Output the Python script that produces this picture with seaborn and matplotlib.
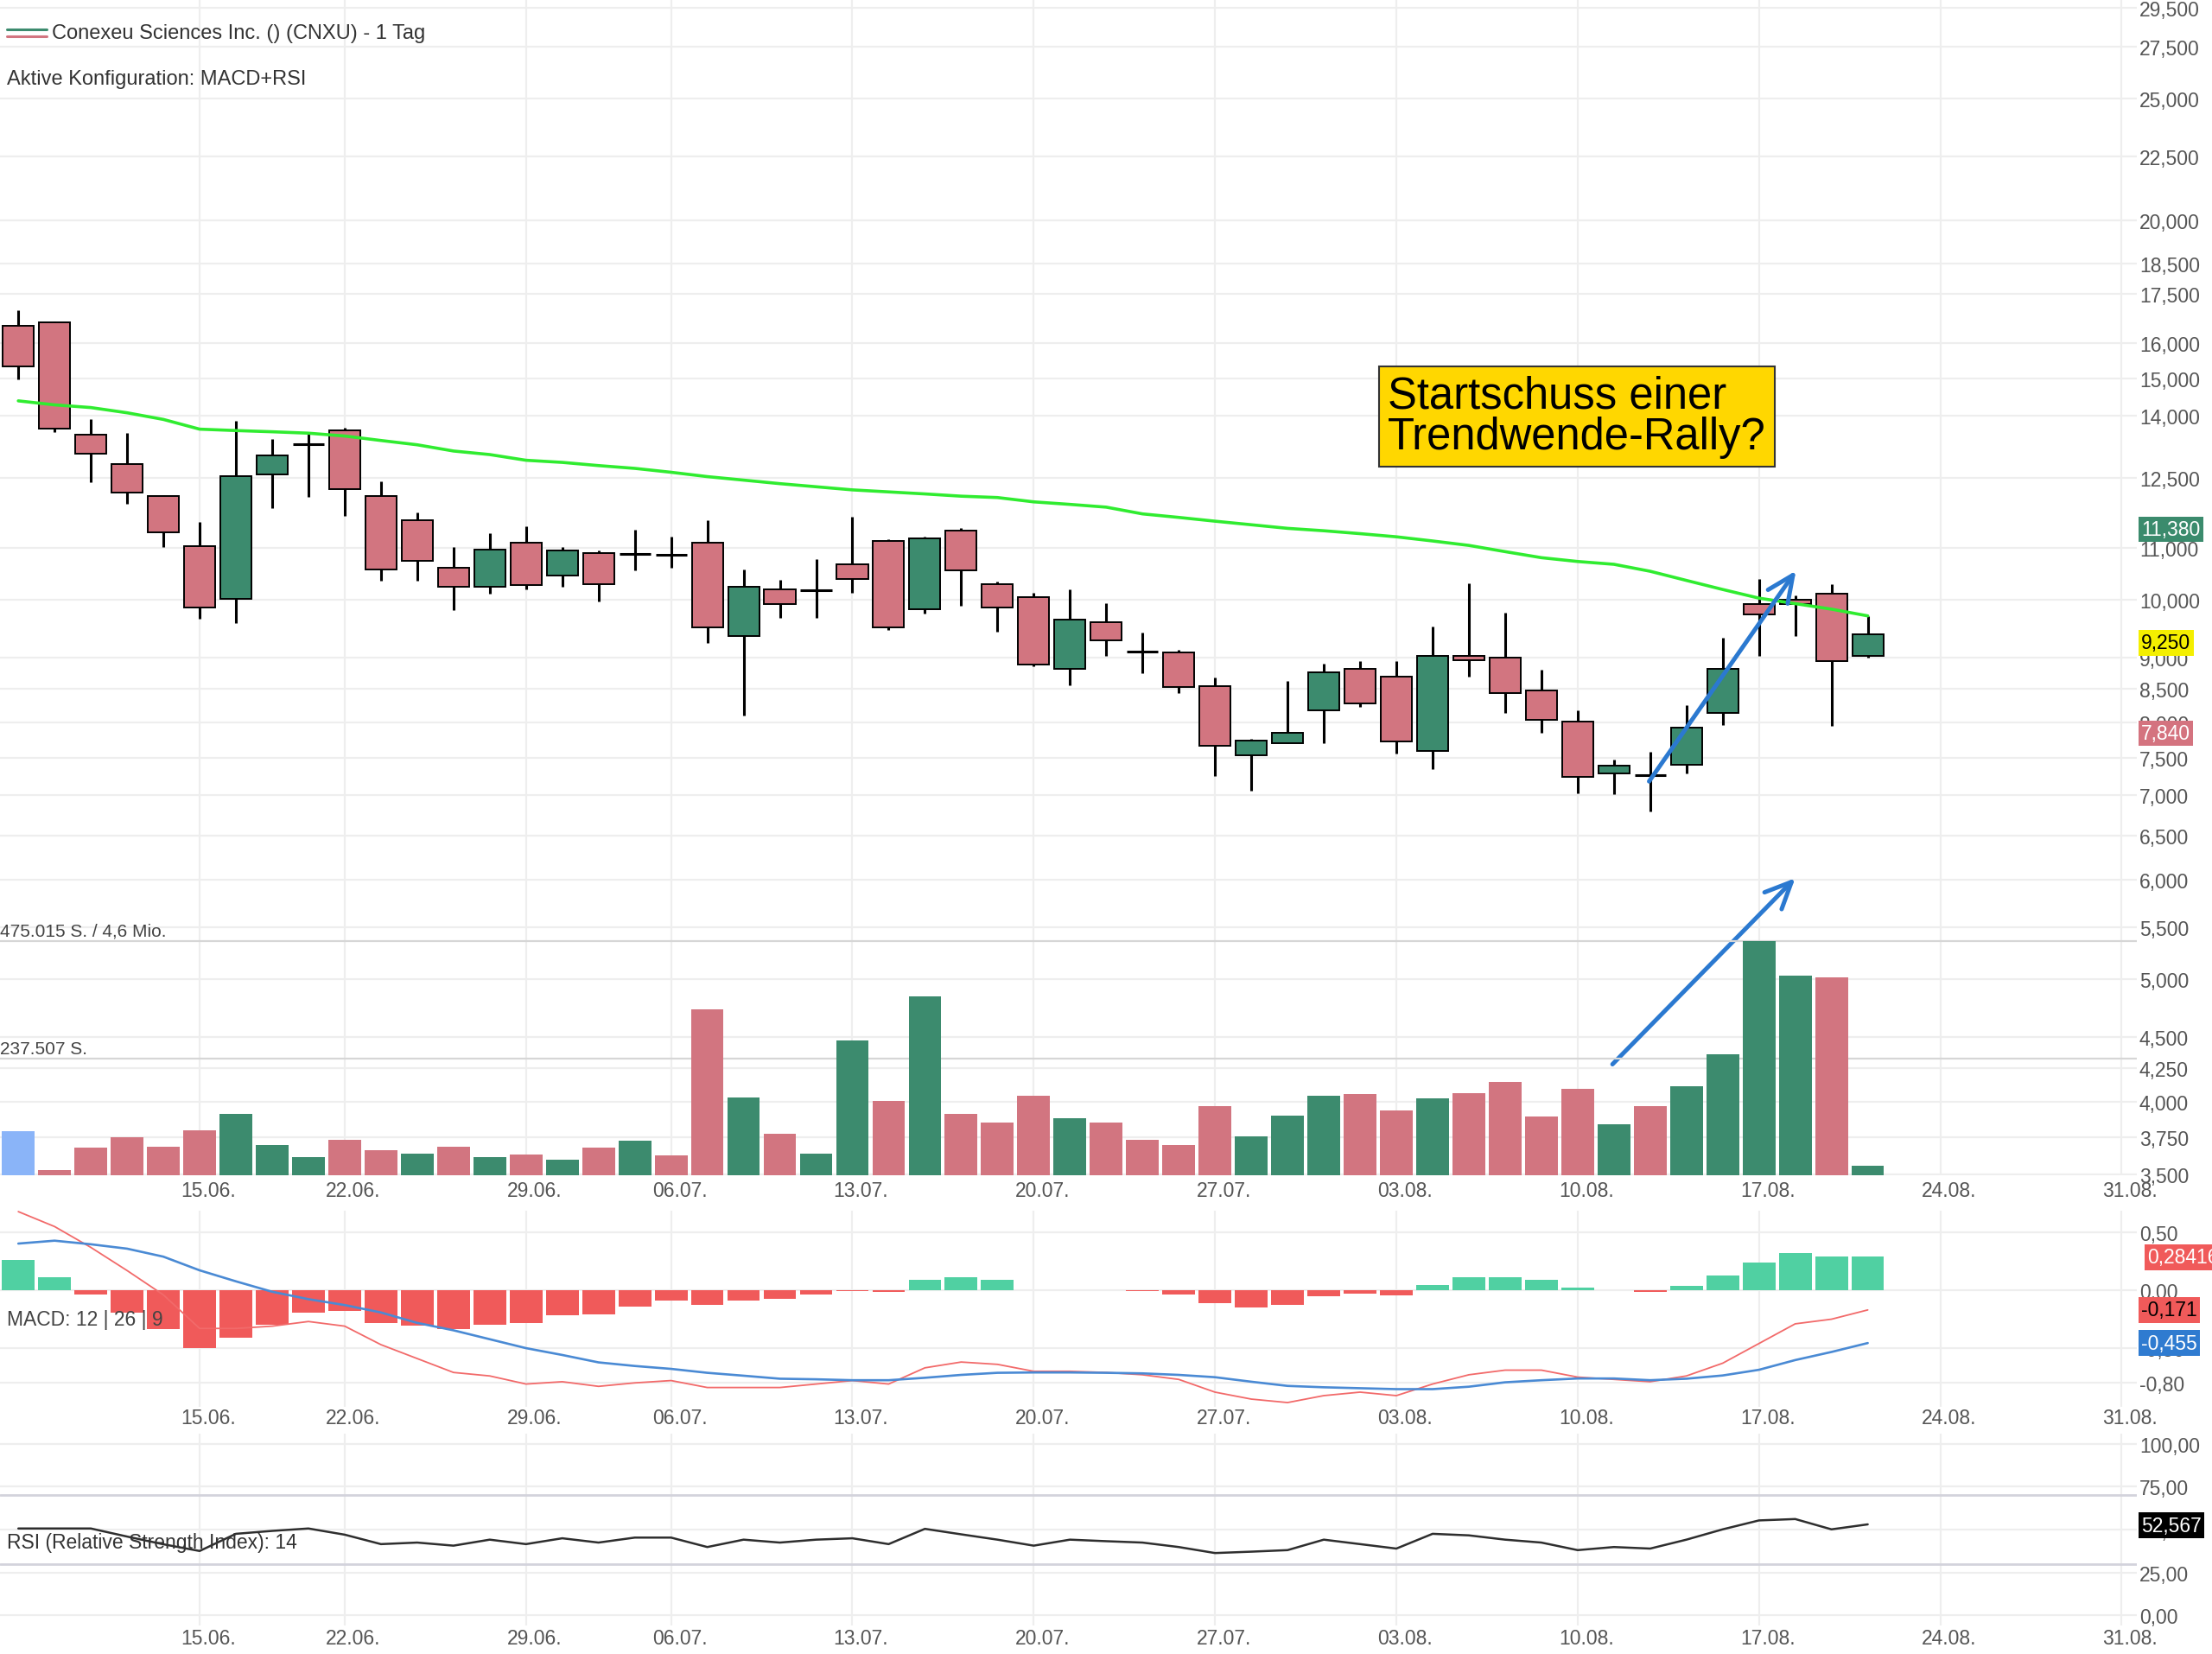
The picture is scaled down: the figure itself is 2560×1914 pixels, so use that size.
import numpy as np
import pandas as pd
import matplotlib
matplotlib.use("Agg")
import matplotlib.pyplot as plt
from matplotlib.lines import Line2D
from matplotlib.ticker import NullLocator
import seaborn as sns

# ---------------- data ----------------
open_ = [16.510, 16.600, 13.530, 12.830, 12.090, 11.040, 10.025, 12.590, 13.300, 13.640,
         12.090, 11.575, 10.610, 10.250, 11.105, 10.455, 10.905, 10.880, 10.860, 11.105,
         9.365, 10.200, 10.180, 10.680, 11.145, 9.840, 11.355, 10.300, 10.060, 8.815,
         9.606, 9.105, 9.085, 8.550, 7.535, 7.702, 8.180, 8.820, 8.700, 7.595,
         9.035, 9.005, 8.480, 8.005, 7.280, 7.260, 7.400, 8.140, 9.920, 10.010,
         10.110, 9.035]
high = [16.980, 16.640, 13.925, 13.570, 12.115, 11.530, 13.870, 13.430, 13.560, 13.690,
        12.415, 11.745, 11.025, 11.295, 11.450, 11.025, 10.940, 11.370, 11.230, 11.575,
        10.575, 10.375, 10.770, 11.640, 11.180, 11.230, 11.400, 10.340, 10.135, 10.205,
        9.940, 9.417, 9.125, 8.680, 7.763, 8.630, 8.900, 8.950, 8.950, 9.522,
        10.310, 9.768, 8.800, 8.180, 7.470, 7.580, 8.253, 9.335, 10.400, 10.090,
        10.290, 9.715]
low = [14.960, 13.590, 12.395, 11.930, 11.010, 9.670, 9.590, 11.830, 12.075, 11.670,
       10.355, 10.355, 9.815, 10.110, 10.195, 10.250, 9.975, 10.550, 10.610, 9.250,
       8.100, 9.685, 9.685, 10.135, 9.475, 9.760, 9.895, 9.440, 8.855, 8.560,
       9.035, 8.750, 8.435, 7.245, 7.063, 7.702, 7.702, 8.230, 7.550, 7.340,
       8.690, 8.140, 7.848, 7.025, 7.010, 6.800, 7.288, 7.960, 9.035, 9.365,
       7.950, 8.995]
close = [15.320, 13.680, 13.060, 12.175, 11.325, 9.860, 12.550, 13.025, 13.300, 12.245,
         10.580, 10.735, 10.250, 10.965, 10.275, 10.940, 10.300, 10.880, 10.860, 9.515,
         10.250, 9.930, 10.180, 10.385, 9.515, 11.200, 10.550, 9.860, 8.885, 9.645,
         9.290, 9.105, 8.530, 7.668, 7.737, 7.848, 8.765, 8.275, 7.720, 9.035,
         8.955, 8.435, 8.040, 7.235, 7.385, 7.260, 7.918, 8.820, 9.735, 9.935,
         8.945, 9.395]
moving_avg = [14.390, 14.285, 14.215, 14.080, 13.910, 13.665, 13.630, 13.600, 13.565, 13.495,
              13.385, 13.280, 13.130, 13.045, 12.910, 12.860, 12.785, 12.720, 12.630, 12.530,
              12.450, 12.370, 12.300, 12.230, 12.185, 12.140, 12.090, 12.060, 11.965, 11.910,
              11.850, 11.705, 11.630, 11.550, 11.475, 11.400, 11.350, 11.290, 11.225, 11.140,
              11.050, 10.925, 10.805, 10.730, 10.675, 10.540, 10.365, 10.195, 10.035, 9.935,
              9.835, 9.715]
volume = [89290, 9820, 55360, 77680, 58040, 91070, 124110, 61610, 36610, 71430,
          50000, 44640, 58040, 36610, 42860, 31250, 55360, 70540, 41070, 336610,
          157150, 84820, 44640, 273220, 150890, 363400, 124110, 106250, 160720, 116070,
          106920, 71865, 61350, 140220, 79460, 121530, 160670, 165350, 131460, 156590,
          166520, 189890, 118610, 175280, 104000, 140220, 179960, 245980, 475015, 404900,
          400820, 19280]
volume_dir = ["flat", "down", "down", "down", "down", "down", "up", "up", "up", "down",
              "down", "up", "down", "up", "down", "up", "down", "up", "down", "down",
              "up", "down", "up", "up", "down", "up", "down", "down", "down", "up",
              "down", "down", "down", "down", "up", "up", "up", "down", "down", "up",
              "down", "down", "down", "down", "up", "down", "up", "up", "up", "up",
              "down", "up"]
macd_hist = [0.264, 0.113, -0.038, -0.192, -0.333, -0.500, -0.410, -0.295, -0.192, -0.179,
             -0.282, -0.308, -0.333, -0.295, -0.282, -0.218, -0.205, -0.141, -0.090, -0.128,
             -0.090, -0.077, -0.038, -0.005, -0.015, 0.090, 0.115, 0.090, 0.0, 0.0,
             0.0, -0.005, -0.040, -0.115, -0.146, -0.130, -0.054, -0.026, -0.044, 0.046,
             0.113, 0.113, 0.090, 0.026, 0.0, -0.015, 0.036, 0.126, 0.241, 0.318,
             0.292, 0.292]
macd_line = [0.679, 0.55, 0.37, 0.17, -0.04, -0.33, -0.33, -0.31, -0.27, -0.31,
             -0.47, -0.59, -0.71, -0.74, -0.81, -0.79, -0.83, -0.80, -0.78, -0.84,
             -0.84, -0.84, -0.81, -0.78, -0.81, -0.67, -0.62, -0.64, -0.70, -0.70,
             -0.71, -0.73, -0.77, -0.88, -0.94, -0.97, -0.91, -0.88, -0.91, -0.81,
             -0.73, -0.69, -0.69, -0.75, -0.77, -0.79, -0.74, -0.63, -0.46, -0.29,
             -0.25, -0.17]
signal_line = [0.403, 0.428, 0.397, 0.359, 0.290, 0.172, 0.077, -0.013, -0.077, -0.128,
               -0.192, -0.282, -0.346, -0.423, -0.500, -0.559, -0.623, -0.654, -0.679, -0.713,
               -0.738, -0.764, -0.769, -0.777, -0.777, -0.756, -0.731, -0.713, -0.710, -0.710,
               -0.713, -0.718, -0.731, -0.751, -0.790, -0.826, -0.838, -0.846, -0.854, -0.854,
               -0.833, -0.795, -0.777, -0.762, -0.762, -0.777, -0.764, -0.736, -0.687, -0.603,
               -0.533, -0.456]
rsi = [50.7, 50.7, 50.7, 46.0, 41.5, 37.6, 47.6, 49.3, 50.7, 47.1,
       41.6, 42.5, 40.7, 44.2, 41.6, 45.0, 42.5, 45.4, 45.4, 39.9,
       44.2, 42.5, 44.2, 45.0, 41.6, 50.5, 47.3, 44.2, 40.7, 44.2,
       43.3, 42.5, 39.9, 36.4, 37.2, 38.1, 44.2, 41.6, 39.0, 47.6,
       46.7, 44.2, 42.5, 38.1, 39.9, 39.0, 44.2, 50.2, 55.4, 56.2,
       50.2, 53.1]

week_start_pos = [5, 9, 14, 18, 23, 28, 33, 38, 43, 48, 53, 58]
week_labels = ["15.06.", "22.06.", "29.06.", "06.07.", "13.07.", "20.07.",
               "27.07.", "03.08.", "10.08.", "17.08.", "24.08.", "31.08."]
price_ticks = [29.5, 27.5, 25.0, 22.5, 20.0, 18.5, 17.5, 16.0, 15.0, 14.0, 12.5, 11.0,
               10.0, 9.0, 8.5, 8.0, 7.5, 7.0, 6.5, 6.0, 5.5, 5.0, 4.5, 4.25, 4.0, 3.75, 3.5]
macd_ticks = [0.5, 0.0, -0.5, -0.8]
rsi_ticks = [100, 75, 50, 25, 0]
rsi_bands = [70, 30]
price_marks = [(11.380, "#3b8b6d", "white"), (9.250, "#f4ef00", "black"), (7.840, "#d4737f", "white")]
macd_marks = [(0.28416, "0,28416", "#f05a5a", "white"), (-0.171, "-0,171", "#f05a5a", "black"),
              (-0.455, "-0,455", "#2f7bd0", "white")]
rsi_mark = 52.567

# ---------------- style ----------------
GREEN = "#3c8b6e"
RED = "#d27580"
BLUE_VOL = "#8ab4f8"
LIME = "#30ec30"
GRID = "#eeeeee"
TXT = "#555555"

sns.set_theme(style="white")
plt.rcParams["font.family"] = ["Liberation Sans", "DejaVu Sans"]

W, H = 2560, 1915
fig = plt.figure(figsize=(W / 100, H / 100), dpi=100)
fig.patch.set_facecolor("white")


def frame(top, bottom, right=2473):
    return [0, 1 - bottom / H, right / W, (bottom - top) / H]


ax = fig.add_axes(frame(0, 1361))
axv = fig.add_axes(frame(0, 1361), sharex=ax)
axm = fig.add_axes(frame(1402, 1629), sharex=ax)
axr = fig.add_axes(frame(1660, 1882), sharex=ax)

x = np.arange(len(close))
o, h, l, c = map(np.array, (open_, high, low, close))

# ---------------- price pane ----------------
ax.set_yscale("log")
ax.vlines(x, l, h, color="black", lw=2.2, zorder=2)
body = c != o
body_col = np.where(c > o, GREEN, RED)
ax.bar(x[body], np.abs(c - o)[body], bottom=np.minimum(o, c)[body], width=0.86,
       color=body_col[body], edgecolor="black", linewidth=1.4, zorder=3)
ax.hlines(o[~body], x[~body] - 0.43, x[~body] + 0.43, color="black", lw=2.2, zorder=3)
sns.lineplot(x=x, y=moving_avg, ax=ax, color=LIME, lw=2.6, zorder=5)

ax.set_ylim(3.496, 29.98)
ax.yaxis.set_minor_locator(NullLocator())
ax.set_yticks(price_ticks)
ax.set_yticklabels([f"{v:.3f}".replace(".", ",") for v in price_ticks])

# ---------------- volume overlay ----------------
vol_df = pd.DataFrame({"x": x, "vol": volume, "dir": volume_dir})
sns.barplot(data=vol_df, x="x", y="vol", hue="dir", native_scale=True, width=0.9,
            palette={"up": GREEN, "down": RED, "flat": BLUE_VOL}, saturation=1,
            errorbar=None, legend=False, linewidth=0, ax=axv, zorder=3)
vmax = max(volume)
axv.set_ylim(0, vmax * 1361 / 271)
for lvl in (vmax, vmax / 2):
    axv.axhline(lvl, color="#d6d6d6", lw=1.6, zorder=1)
axv.annotate(f"{vmax:,}".replace(",", ".") + " S. / 4,6 Mio.", xy=(0, vmax),
             xycoords=("axes fraction", "data"), xytext=(0, 2), textcoords="offset pixels",
             ha="left", va="bottom", fontsize=15, color="#444444")
axv.annotate(f"{int(vmax / 2):,}".replace(",", ".") + " S.", xy=(0, vmax / 2),
             xycoords=("axes fraction", "data"), xytext=(0, 2), textcoords="offset pixels",
             ha="left", va="bottom", fontsize=15, color="#444444")
axv.set_axis_off()

# ---------------- MACD pane ----------------
hist_df = pd.DataFrame({"x": x, "h": macd_hist,
                        "sign": np.where(np.array(macd_hist) >= 0, "pos", "neg")})
sns.barplot(data=hist_df, x="x", y="h", hue="sign", native_scale=True, width=0.9,
            palette={"pos": "#50d0a2", "neg": "#f05a5a"}, saturation=1,
            errorbar=None, legend=False, linewidth=0, ax=axm, zorder=2)
sns.lineplot(x=x, y=macd_line, ax=axm, color="#f26a6a", lw=1.3, zorder=4)
sns.lineplot(x=x, y=signal_line, ax=axm, color="#4a8ad4", lw=1.9, zorder=4)
axm.set_ylim(-1.007, 0.687)
axm.set_yticks(macd_ticks)
axm.set_yticklabels([f"{v:.2f}".replace(".", ",") for v in macd_ticks])

# ---------------- RSI pane ----------------
sns.lineplot(x=x, y=rsi, ax=axr, color="#2e2e2e", lw=1.8, zorder=4)
for b in rsi_bands:
    axr.axhline(b, color="#d3d3dc", lw=2.0, zorder=1)
axr.set_ylim(-5.79, 105.94)
axr.set_yticks(rsi_ticks)
axr.set_yticklabels([f"{v:.2f}".replace(".", ",") for v in rsi_ticks])

# ---------------- common axis styling ----------------
for a, xpad in ((ax, 4.5), (axm, 1.0), (axr, 2.5)):
    for s in a.spines.values():
        s.set_visible(False)
    a.set_facecolor("none")
    a.set_xlabel("")
    a.set_ylabel("")
    a.grid(axis="y", color=GRID, lw=1.6)
    a.grid(axis="x", visible=False)
    a.set_axisbelow(True)
    for p in week_start_pos:
        a.axvline(p, color=GRID, lw=1.6, zorder=0)
    a.yaxis.tick_right()
    a.tick_params(axis="y", length=0, pad=2, labelsize=16.5, labelcolor=TXT)
    a.tick_params(axis="x", length=0, pad=xpad, labelsize=16.5, labelcolor=TXT)

ax.set_xticks(np.array(week_start_pos) + 0.24)
ax.set_xticklabels(week_labels)
ax.set_xlim(-0.505, 58.42)
for a in (axm, axr):
    a.tick_params(axis="x", labelbottom=True)

# ---------------- value boxes on the right ----------------
def value_box(a, val, text, fc, tc, dx=5):
    a.annotate(text, xy=(1, val), xycoords=("axes fraction", "data"), xytext=(dx, 0),
               textcoords="offset pixels", ha="left", va="center", fontsize=16.5, color=tc,
               bbox=dict(boxstyle="square,pad=0.15", fc=fc, ec="none"),
               annotation_clip=False, zorder=20)


for val, fc, tc in price_marks:
    value_box(ax, val, f"{val:.3f}".replace(".", ","), fc, tc)
for val, txt, fc, tc in macd_marks:
    value_box(axm, val, txt, fc, tc, dx=12 if val > 0 else 5)
value_box(axr, rsi_mark, f"{rsi_mark:.3f}".replace(".", ","), "black", "white")

# ---------------- annotations ----------------
arrow_kw = dict(arrowstyle="->,head_length=1.1,head_width=0.5", color="#2b79d0", lw=3.6,
                shrinkA=0, shrinkB=0, mutation_scale=20, capstyle="round")
ax.annotate("", xy=(49.02, 10.55), xytext=(44.97, 7.18), arrowprops=arrow_kw,
            annotation_clip=False, zorder=8)
ax.annotate("", xy=(49.0, 6.016), xytext=(43.96, 4.282), arrowprops=arrow_kw,
            annotation_clip=False, zorder=8)

fig.text(1606 / W, 1 - 483 / H, "Startschuss einer\nTrendwende-Rally?", fontsize=36.5,
         color="black", ha="left", va="center", linespacing=0.95,
         bbox=dict(boxstyle="square,pad=0.2", fc="#ffd700", ec="#333333", lw=1.5), zorder=30)

# header texts
fig.add_artist(Line2D([8 / W, 54 / W], [1 - 34.5 / H] * 2, color=GREEN, lw=2.2,
                      transform=fig.transFigure))
fig.add_artist(Line2D([8 / W, 54 / W], [1 - 42.5 / H] * 2, color=RED, lw=2.2,
                      transform=fig.transFigure))
fig.text(60 / W, 1 - 39 / H, "Conexeu Sciences Inc. () (CNXU) - 1 Tag", fontsize=17,
         color="#333333", ha="left", va="center")
fig.text(8 / W, 1 - 92 / H, "Aktive Konfiguration: MACD+RSI", fontsize=17,
         color="#333333", ha="left", va="center")
fig.text(8 / W, 1 - 1528 / H, "MACD: 12 | 26 | 9", fontsize=16.5, color="#444444",
         ha="left", va="center", zorder=30)
fig.text(8 / W, 1 - 1786 / H, "RSI (Relative Strength Index): 14", fontsize=16.5,
         color="#333333", ha="left", va="center", zorder=30)

fig.savefig("out.png", dpi=100, facecolor="white")
